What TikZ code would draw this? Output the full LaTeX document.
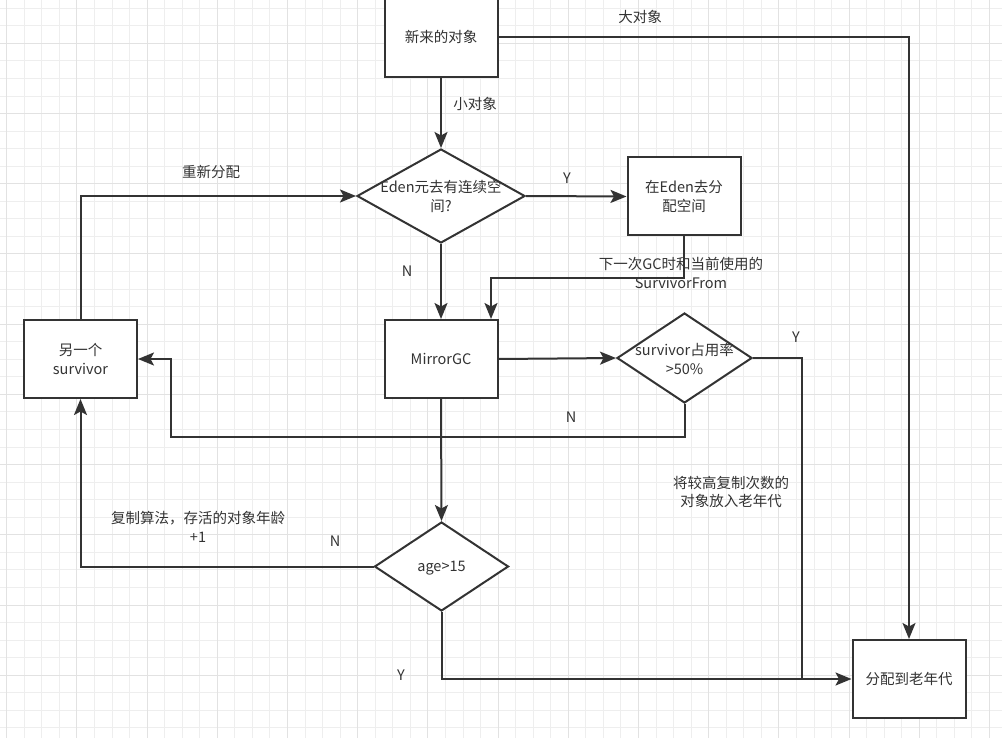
\documentclass[tikz,border=0pt]{standalone}
\usepackage{fontspec}
\setmainfont{Noto Sans CJK SC}
\usetikzlibrary{shapes.geometric,arrows.meta}
\definecolor{linegray}{HTML}{333333}
\definecolor{textgray}{HTML}{333333}
\definecolor{gridminor}{HTML}{EEEEEE}
\definecolor{gridmajor}{HTML}{E2E2E2}

\begin{document}
\begin{tikzpicture}[x=1pt,y=-1pt,
    every node/.style={font=\fontsize{14.5}{18.5}\selectfont,text=textgray},
    box/.style={draw=linegray,line width=2pt,fill=white,minimum width=113,minimum height=78,align=center,inner sep=0},
    decision/.style={diamond,draw=linegray,line width=2pt,fill=white,inner sep=0},
    txt/.style={align=center,inner sep=0},
    flow/.style={draw=linegray,line width=2pt},
    arr/.style={flow,-{Stealth[length=16pt,width=13pt,inset=3.5pt]}}]
    \useasboundingbox[fill=white] (0,0) rectangle (1002,738);
    % grid:
    \foreach \i in {0,...,56} \draw[gridminor,line width=1pt] ({6.7+17.55*\i},0) -- ++(0,738);
    \foreach \i in {0,...,41} \draw[gridminor,line width=1pt] (0,{8.3+17.55*\i}) -- ++(1002,0);
    \foreach \i in {0,4,...,56} \draw[gridmajor,line width=1pt] ({6.7+17.55*\i},0) -- ++(0,738);
    \foreach \i in {2,6,...,38} \draw[gridmajor,line width=1pt] (0,{8.3+17.55*\i}) -- ++(1002,0);
    % boxes:
    \node[box,minimum height=80] (new) at (441,37) {新来的对象};
    \node[decision,minimum width=168,minimum height=94] (eden) at (441,196) {};
    \node[txt] (edentext) at (441,196.5) {Eden元去有连续空\\间?};
    \node[box] (alloc) at (684,196.5) {在Eden去分\\配空间};
    \node[box] (gc) at (441,359) {MirrorGC};
    \node[box] (other) at (80.5,359) {另一个\\survivor};
    \node[decision,minimum width=135,minimum height=90] (rate) at (684.5,358) {};
    \node[txt] (ratetext) at (684.5,359) {survivor占用率\\>50\%};
    \node[decision,minimum width=134,minimum height=89] (age) at (441.5,566.5) {};
    \node[txt] (agetext) at (441.5,568.5) {age>15};
    \node[box] (old) at (909,679) {分配到老年代};
    % labels:
    \node[txt] (big) at (640,17) {大对象};
    \node[txt] (small) at (475,104) {小对象};
    \node[txt] (yes1) at (567,178) {Y};
    \node[txt] (no1) at (407,271) {N};
    \node[txt] (next) at (681,273) {下一次GC时和当前使用的\\SurvivorFrom};
    \node[txt] (realloc) at (211,172) {重新分配};
    \node[txt] (yes2) at (796,337) {Y};
    \node[txt] (no2) at (571,417) {N};
    \node[txt] (promote) at (731,492) {将较高复制次数的\\对象放入老年代};
    \node[txt] (copy) at (198,527) {复制算法，存活的对象年龄\\+1};
    \node[txt] (no3) at (335,541) {N};
    \node[txt] (yes3) at (401,675) {Y};
    % lines:
    \coordinate (turn1) at (491,278);
    \coordinate (turn2) at (171,437);
    \coordinate (turn3) at (802,679);
    \draw[arr] (new.east) -| (old.north);
    \draw[arr] (new.south) -- (eden.north);
    \draw[arr] (eden.east) -- (alloc.west);
    \draw[arr] (alloc.south) |- (turn1) -- (turn1 |- gc.north);
    \draw[arr] (eden.south) -- (gc.north);
    \draw[arr] (gc.east) -- (rate.west);
    \draw[arr] (rate.south) |- (turn2) |- (other.east);
    \draw[flow] (rate.east) -| (turn3);
    \draw[arr] (gc.south) -- (age.north);
    \draw[arr] (age.west) -| (other.south);
    \draw[arr] (age.south) |- (old.west);
    \draw[arr] (other.north) |- (eden.west);
\end{tikzpicture}
\end{document}
